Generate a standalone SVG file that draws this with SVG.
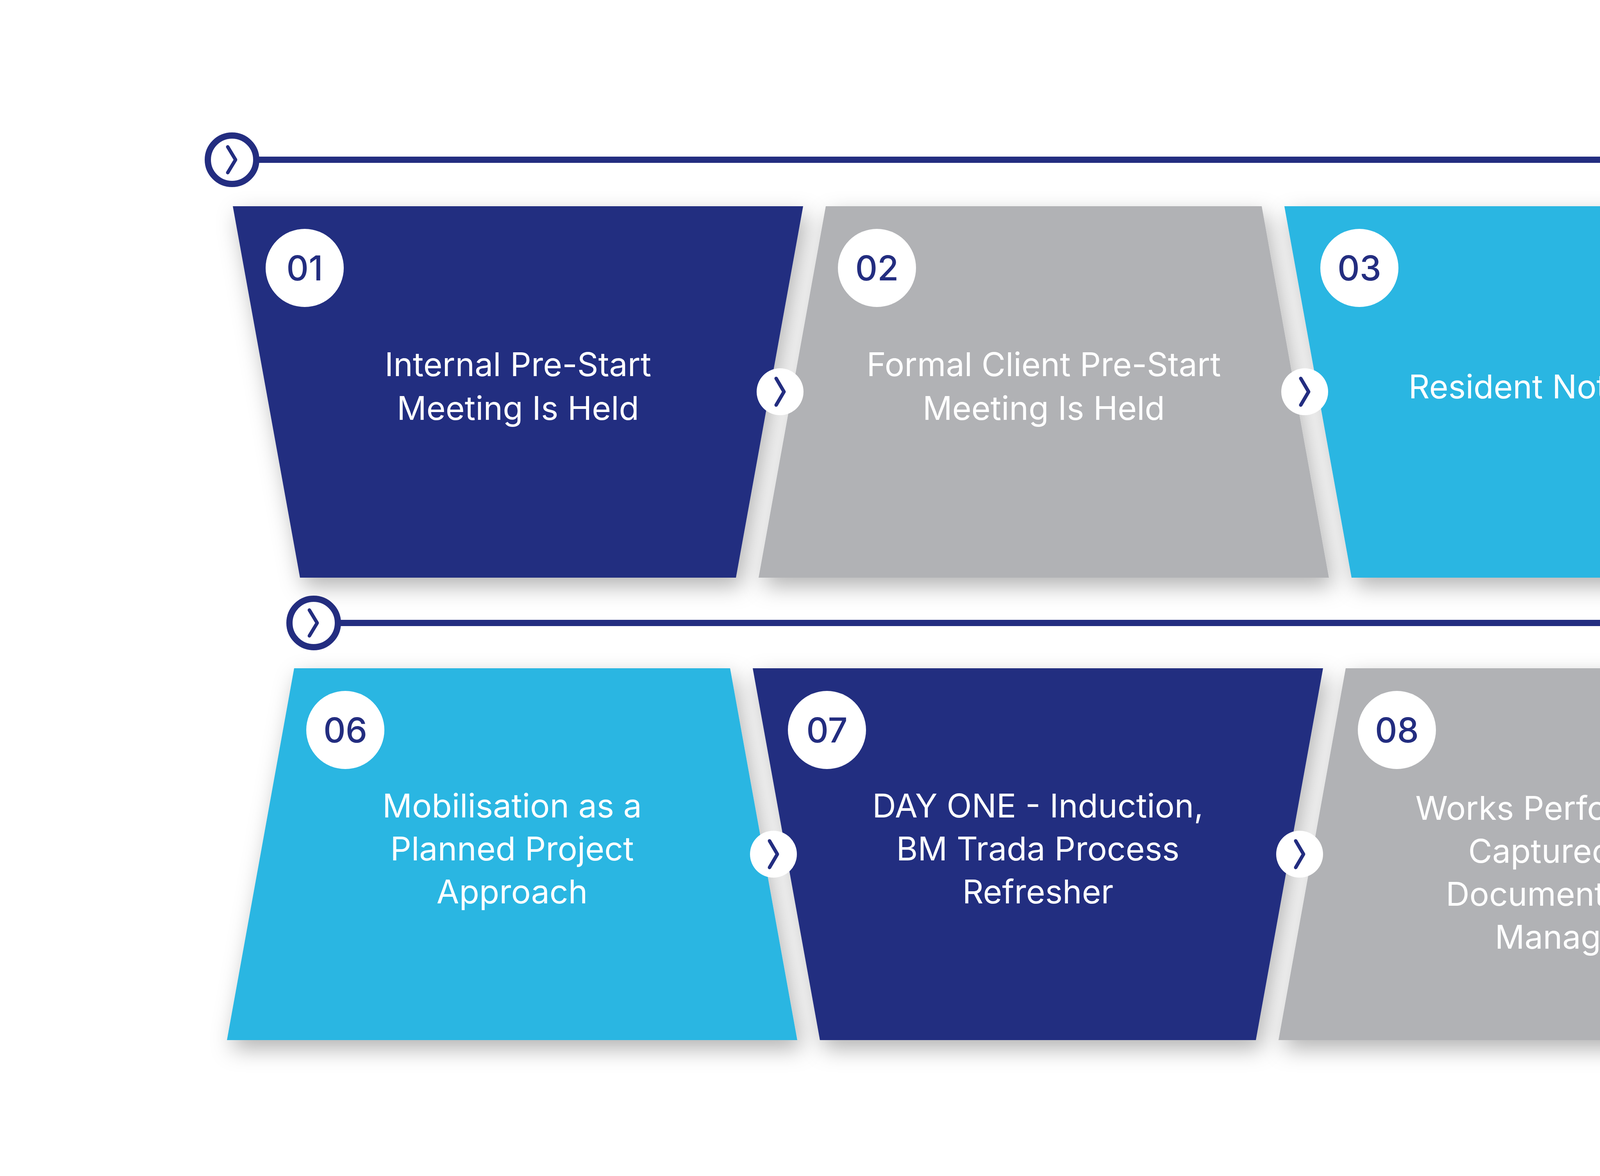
<svg xmlns="http://www.w3.org/2000/svg" width="8000" height="3011" viewBox="0 0 8000 3011">
<defs>
<style>
.navy{fill:#232d80}.gray{fill:#b1b2b5}.light{fill:#29b6e2}
.sh{filter:url(#ds)}
.lbl{font-family:Inter,"Noto Sans",sans-serif;font-size:84px;fill:#fff;text-anchor:middle}
.num{font-family:Inter,"Noto Sans",sans-serif;font-size:88px;fill:#232d80;text-anchor:middle;font-weight:500}
.badge{fill:#fff}
.chev{fill:none;stroke:#232d80;stroke-width:9;stroke-linecap:round;stroke-linejoin:round}
.tl{stroke:#232d80;stroke-width:16}
.tc{fill:#fff;stroke:#232d80;stroke-width:16}
</style>
<filter id="ds" x="-10%" y="-10%" width="125%" height="130%">
<feDropShadow dx="12" dy="22" stdDeviation="28" flood-color="#000" flood-opacity="0.3"/>
</filter>
</defs>
<rect width="8000" height="3011" fill="#fff"/>
<g id="timelines">
<line class="tl" x1="594" y1="409" x2="7404" y2="409"/>
<circle class="tc" cx="594" cy="409" r="62"/><path class="chev" d="M583,376 L603,409 L583,442"/>
<circle class="tc" cx="7404" cy="409" r="62"/><path class="chev" d="M7393,376 L7413,409 L7393,442"/>
<line class="tl" x1="803" y1="1595" x2="7225" y2="1595"/>
<circle class="tc" cx="803" cy="1595" r="62"/><path class="chev" d="M792,1562 L812,1595 L792,1628"/>
<circle class="tc" cx="7225" cy="1595" r="62"/><path class="chev" d="M7214,1562 L7234,1595 L7214,1628"/>
</g>
<g id="node01"><polygon class="navy sh" points="596,528 2056,528 1884,1479 768,1479"/><circle class="badge" cx="780" cy="686" r="100"/><text class="num" x="780" y="718">01</text><text class="lbl" x="1326" y="963">Internal Pre-Start</text><text class="lbl" x="1326" y="1075">Meeting Is Held</text></g>
<g id="node02"><polygon class="gray sh" points="2114,528 3230,528 3402,1479 1942,1479"/><circle class="badge" cx="2245" cy="686" r="100"/><text class="num" x="2245" y="718">02</text><text class="lbl" x="2672" y="963">Formal Client Pre-Start</text><text class="lbl" x="2672" y="1075">Meeting Is Held</text></g>
<g id="node03"><polygon class="light sh" points="3288,528 4748,528 4576,1479 3460,1479"/><circle class="badge" cx="3480" cy="686" r="100"/><text class="num" x="3480" y="718">03</text><text class="lbl" x="4018" y="1020">Resident Notification</text></g>
<g id="node04"><polygon class="navy sh" points="4806,528 5922,528 6094,1479 4634,1479"/><circle class="badge" cx="4942" cy="686" r="100"/><text class="num" x="4942" y="718">04</text><text class="lbl" x="5364" y="963">Ventro Surveys are</text><text class="lbl" x="5364" y="1075">Conducted</text></g>
<g id="node05"><polygon class="gray sh" points="5980,528 7440,528 7268,1479 6152,1479"/><circle class="badge" cx="6174" cy="686" r="100"/><text class="num" x="6174" y="718">05</text><text class="lbl" x="6710" y="963">Analysis and Costings</text><text class="lbl" x="6710" y="1075">are Proposed</text></g>
<g id="node06"><polygon class="light sh" points="753,1711 1869,1711 2041,2663 581,2663"/><circle class="badge" cx="884" cy="1869" r="100"/><text class="num" x="884" y="1901">06</text><text class="lbl" x="1311" y="2093">Mobilisation as a</text><text class="lbl" x="1311" y="2203">Planned Project</text><text class="lbl" x="1311" y="2313">Approach</text></g>
<g id="node07"><polygon class="navy sh" points="1927,1711 3387,1711 3215,2663 2099,2663"/><circle class="badge" cx="2117" cy="1869" r="100"/><text class="num" x="2117" y="1901">07</text><text class="lbl" x="2657" y="2093">DAY ONE - Induction,</text><text class="lbl" x="2657" y="2203">BM Trada Process</text><text class="lbl" x="2657" y="2313">Refresher</text></g>
<g id="node08"><polygon class="gray sh" points="3445,1711 4561,1711 4733,2663 3273,2663"/><circle class="badge" cx="3576" cy="1869" r="100"/><text class="num" x="3576" y="1901">08</text><text class="lbl" x="4003" y="2099">Works Performed -</text><text class="lbl" x="4003" y="2209">Captured by</text><text class="lbl" x="4003" y="2319">Documentation</text><text class="lbl" x="4003" y="2429">Manager</text></g>
<g id="node09"><polygon class="light sh" points="4619,1711 6079,1711 5907,2663 4791,2663"/><circle class="badge" cx="4809" cy="1869" r="100"/><text class="num" x="4809" y="1901">09</text><text class="lbl" x="5349" y="2093">Weekly Site Manager</text><text class="lbl" x="5349" y="2203">Reports &amp; Formal</text><text class="lbl" x="5349" y="2313">Progress Meetings</text></g>
<g id="node10"><polygon class="navy sh" points="6137,1711 7253,1711 7425,2663 5965,2663"/><circle class="badge" cx="6268" cy="1869" r="100"/><text class="num" x="6268" y="1901">10</text><text class="lbl" x="6695" y="2093">QC &amp; Sign Off</text><text class="lbl" x="6695" y="2313">Delivery of O&amp;M</text></g>
<g id="connectors">
<circle class="badge" cx="1997" cy="1003" r="60"/><path class="chev" d="M1987,969 L2007,1003 L1987,1037"/>
<circle class="badge" cx="3340" cy="1003" r="60"/><path class="chev" d="M3330,969 L3350,1003 L3330,1037"/>
<circle class="badge" cx="4685" cy="1003" r="60"/><path class="chev" d="M4675,969 L4695,1003 L4675,1037"/>
<circle class="badge" cx="6037" cy="1003" r="60"/><path class="chev" d="M6027,969 L6047,1003 L6027,1037"/>
<circle class="badge" cx="7385" cy="1003" r="60"/><path class="chev" d="M7375,969 L7395,1003 L7375,1037"/>
<circle class="badge" cx="1980" cy="2187" r="60"/><path class="chev" d="M1970,2153 L1990,2187 L1970,2221"/>
<circle class="badge" cx="3327" cy="2187" r="60"/><path class="chev" d="M3317,2153 L3337,2187 L3317,2221"/>
<circle class="badge" cx="4670" cy="2187" r="60"/><path class="chev" d="M4660,2153 L4680,2187 L4660,2221"/>
<circle class="badge" cx="6016" cy="2187" r="60"/><path class="chev" d="M6006,2153 L6026,2187 L6006,2221"/>
</g>
</svg>
